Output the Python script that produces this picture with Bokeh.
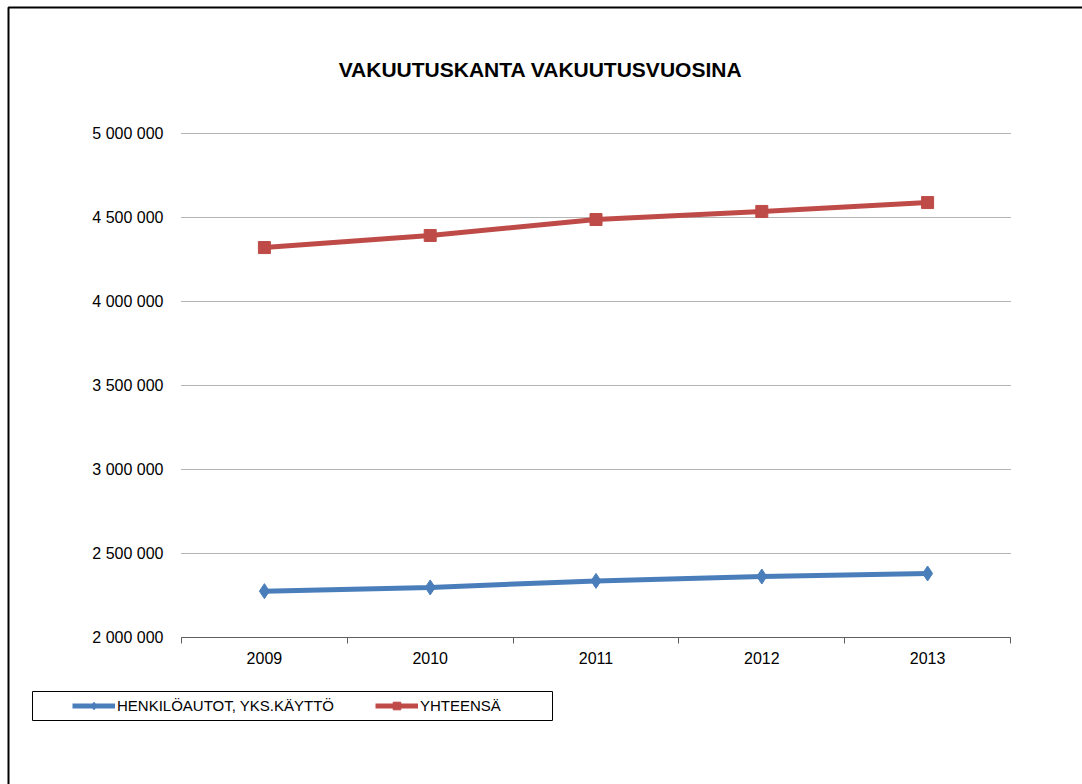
from bokeh.plotting import figure
from bokeh.models import (Range1d, FixedTicker, Legend, LegendItem, Label,
                          BoxAnnotation, Grid)
from bokeh.embed import file_html
from bokeh.resources import INLINE

# ---- data ----
years = ["2009", "2010", "2011", "2012", "2013"]
henkiloautot = [2276000, 2298000, 2337000, 2363000, 2381000]
yhteensa = [4321000, 4393000, 4488000, 4536000, 4589000]
y_ticks = [2000000, 2500000, 3000000, 3500000, 4000000, 4500000, 5000000]
y_tick_labels = ["2 000 000", "2 500 000", "3 000 000", "3 500 000",
                 "4 000 000", "4 500 000", "5 000 000"]
title_text = "VAKUUTUSKANTA VAKUUTUSVUOSINA"
series_names = ["HENKILÖAUTOT, YKS.KÄYTTÖ", "YHTEENSÄ"]

FONT = "Liberation Sans"
BLUE = "#4A7EBB"
RED = "#BE4B48"

# ---- layout (pixels) ----
W, H = 1082, 784
PLOT_L, PLOT_R, PLOT_T, PLOT_B = 181, 1010, 133, 637

xs = list(range(len(years)))
x0, x1 = -0.5, len(years) - 0.5
y0, y1 = y_ticks[0], y_ticks[-1]
px_per_x = (PLOT_R - PLOT_L) / (x1 - x0)
px_per_y = (PLOT_B - PLOT_T) / (y1 - y0)
x_start = x0 - PLOT_L / px_per_x
y_end = y1 + PLOT_T / px_per_y

p = figure(width=W, height=H, output_backend="svg", toolbar_location=None,
           x_range=Range1d(x_start, x1 + (W - PLOT_R) / px_per_x),
           y_range=Range1d(y0 - (H - PLOT_B) / px_per_y, y_end),
           min_border=0, min_border_left=0, min_border_right=0,
           min_border_top=0, min_border_bottom=0)
p.outline_line_color = None
p.background_fill_color = "white"
p.border_fill_color = "white"


def px_x(px):
    return x_start + px / px_per_x


def px_y(py):
    return y_end - py / px_per_y


# chart-area border: only its left and top edges lie inside the page
p.line([px_x(8), px_x(8), px_x(W + 20)], [px_y(H + 20), px_y(7), px_y(7)],
       line_color="black", line_width=2, level="underlay")

# grid (horizontal lines only inside plot area)
p.xgrid.visible = False
p.ygrid.visible = False
if "cross_bounds" in Grid.properties():
    g = Grid(dimension=1, ticker=FixedTicker(ticks=y_ticks),
             cross_bounds=(x0, x1), grid_line_color="#6a6a6a",
             grid_line_dash="1 1", grid_line_width=1)
    p.add_layout(g)
else:
    p.segment(x0=[x0] * len(y_ticks), x1=[x1] * len(y_ticks),
              y0=y_ticks, y1=y_ticks, line_color="#6a6a6a",
              line_dash="1 1", line_width=1)

# y axis
p.yaxis.fixed_location = x0
p.yaxis.bounds = (y0, y1)
p.yaxis.ticker = FixedTicker(ticks=y_ticks)
p.yaxis.major_label_overrides = {t: l for t, l in zip(y_ticks, y_tick_labels)}
p.yaxis.axis_line_color = None
p.yaxis.major_tick_line_color = None
p.yaxis.minor_tick_line_color = None
p.yaxis.major_label_standoff = 12
p.yaxis.major_label_text_font = FONT
p.yaxis.major_label_text_font_size = "16px"
p.yaxis.major_label_text_color = "black"

# x axis
p.xaxis.fixed_location = y0
p.xaxis.bounds = (x0, x1)
p.xaxis.ticker = FixedTicker(ticks=xs, minor_ticks=[i - 0.5 for i in range(len(years) + 1)])
p.xaxis.major_label_overrides = {i: y for i, y in zip(xs, years)}
p.xaxis.axis_line_color = "#5f5f5f"
p.xaxis.axis_line_width = 1
p.xaxis.major_tick_out = 0
p.xaxis.major_tick_in = 0
p.xaxis.minor_tick_out = 6
p.xaxis.minor_tick_in = 0
p.xaxis.minor_tick_line_color = "#5f5f5f"
p.xaxis.major_label_standoff = 8
p.xaxis.major_label_text_font = FONT
p.xaxis.major_label_text_font_size = "16px"
p.xaxis.major_label_text_color = "black"

# series
r1 = p.line(xs, henkiloautot, line_color=BLUE, line_width=5)
s1 = p.scatter(xs, henkiloautot, marker="diamond", size=15,
               fill_color=BLUE, line_color=BLUE)
r2 = p.line(xs, yhteensa, line_color=RED, line_width=5)
s2 = p.scatter(xs, yhteensa, marker="square", size=12,
               fill_color=RED, line_color=RED)

# title
p.add_layout(Label(x=540, y=69, x_units="canvas", y_units="canvas",
                   text=title_text, text_align="center", text_baseline="middle",
                   text_font=FONT, text_font_style="bold",
                   text_font_size="21px", text_color="black"))

# legend box
p.add_layout(BoxAnnotation(left=32, right=552, top=691, bottom=720,
                           left_units="canvas", right_units="canvas",
                           top_units="canvas", bottom_units="canvas",
                           fill_alpha=0, line_color="black", line_width=1,
                           line_alpha=1))

legend = Legend(items=[LegendItem(label=series_names[0], renderers=[r1, s1]),
                       LegendItem(label=series_names[1], renderers=[r2, s2])],
                orientation="horizontal", location=(72, H - 715),
                border_line_alpha=0, background_fill_alpha=0,
                glyph_width=43, glyph_height=19, label_standoff=2,
                spacing=41, padding=0, margin=0,
                label_text_font=FONT, label_text_font_size="15px",
                label_text_color="black")
p.add_layout(legend, "center")

open("out.html", "w").write(file_html(p, INLINE))
